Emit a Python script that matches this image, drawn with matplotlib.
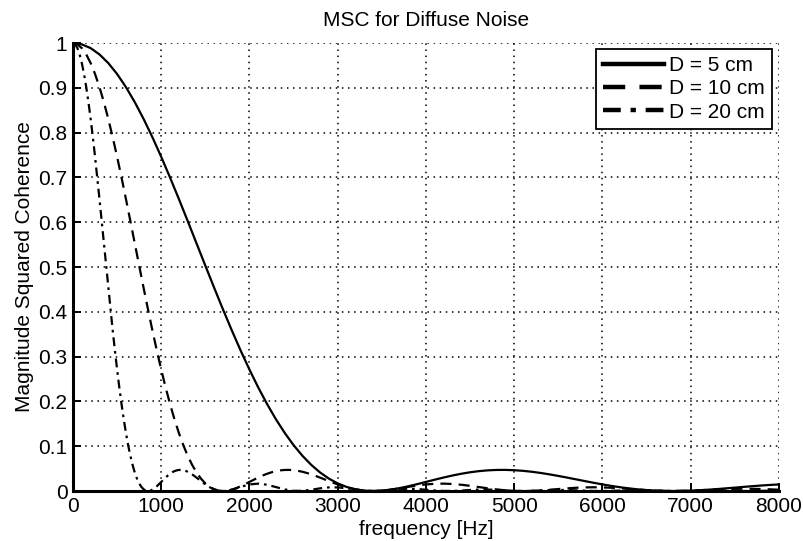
import numpy as np
import matplotlib
matplotlib.use('Agg')
import matplotlib.pyplot as plt

plt.rcParams['font.family'] = ['Liberation Sans', 'DejaVu Sans']

# magnitude squared coherence values
# D = 5 cm, f = 0..8000 Hz step 100
f_5cm = np.arange(0, 8001, 100)
msc_5cm = [1.0, 0.99716, 0.98867, 0.97464, 0.95529, 0.93085, 0.90166, 0.86810, 0.83063, 0.78972,
           0.74590, 0.69973, 0.65178, 0.60262, 0.55283, 0.50299, 0.45363, 0.40528, 0.35843, 0.31350,
           0.27089, 0.23094, 0.19392, 0.16005, 0.12950, 0.10235, 0.07864, 0.05835, 0.04140, 0.02767,
           0.01698, 0.00913, 0.00386, 0.00092, 0.0, 0.00081, 0.00305, 0.00641, 0.01059, 0.01530,
           0.02029, 0.02531, 0.03014, 0.03460, 0.03853, 0.04181, 0.04436, 0.04610, 0.04703, 0.04714,
           0.04645, 0.04503, 0.04295, 0.04029, 0.03716, 0.03367, 0.02993, 0.02606, 0.02217, 0.01838,
           0.01477, 0.01143, 0.00844, 0.00586, 0.00373, 0.00208, 0.00091, 0.00022, 0.0, 0.00021,
           0.00081, 0.00174, 0.00295, 0.00437, 0.00593, 0.00756, 0.00920, 0.01079, 0.01226, 0.01357,
           0.01467]

# D = 10 cm, f = 0..4000 step 50, then 4100..8000 step 100
f_10cm = np.concatenate([np.arange(0, 4001, 50), np.arange(4100, 8001, 100)])
msc_10cm = [1.0, 0.99716, 0.98867, 0.97464, 0.95529, 0.93085, 0.90166, 0.86810, 0.83063, 0.78972,
            0.74590, 0.69973, 0.65178, 0.60262, 0.55283, 0.50299, 0.45363, 0.40528, 0.35843, 0.31350,
            0.27089, 0.23094, 0.19392, 0.16005, 0.12950, 0.10235, 0.07864, 0.05835, 0.04140, 0.02767,
            0.01698, 0.00913, 0.00386, 0.00092, 0.0, 0.00081, 0.00305, 0.00641, 0.01059, 0.01530,
            0.02029, 0.02531, 0.03014, 0.03460, 0.03853, 0.04181, 0.04436, 0.04610, 0.04703, 0.04714,
            0.04645, 0.04503, 0.04295, 0.04029, 0.03716, 0.03367, 0.02993, 0.02606, 0.02217, 0.01838,
            0.01477, 0.01143, 0.00844, 0.00586, 0.00373, 0.00208, 0.00091, 0.00022, 0.0, 0.00021,
            0.00081, 0.00174, 0.00295, 0.00437, 0.00593, 0.00756, 0.00920, 0.01079, 0.01226, 0.01357,
            0.01467,
            0.01612, 0.01646, 0.01570, 0.01399, 0.01159, 0.00881, 0.00602, 0.00352, 0.00159, 0.00040,
            0.0, 0.00037, 0.00136, 0.00278, 0.00439, 0.00595, 0.00722, 0.00805, 0.00834, 0.00807,
            0.00728, 0.00610, 0.00470, 0.00325, 0.00192, 0.00088, 0.00022, 0.0, 0.00021, 0.00078,
            0.00161, 0.00256, 0.00350, 0.00429, 0.00482, 0.00503, 0.00490, 0.00445, 0.00376, 0.00291]

# D = 20 cm, f = 0..2000 step 25, then 2100..8000 step 100
f_20cm = np.concatenate([np.arange(0, 2001, 25), np.arange(2100, 8001, 100)])
msc_20cm = [1.0, 0.99716, 0.98867, 0.97464, 0.95529, 0.93085, 0.90166, 0.86810, 0.83063, 0.78972,
            0.74590, 0.69973, 0.65178, 0.60262, 0.55283, 0.50299, 0.45363, 0.40528, 0.35843, 0.31350,
            0.27089, 0.23094, 0.19392, 0.16005, 0.12950, 0.10235, 0.07864, 0.05835, 0.04140, 0.02767,
            0.01698, 0.00913, 0.00386, 0.00092, 0.0, 0.00081, 0.00305, 0.00641, 0.01059, 0.01530,
            0.02029, 0.02531, 0.03014, 0.03460, 0.03853, 0.04181, 0.04436, 0.04610, 0.04703, 0.04714,
            0.04645, 0.04503, 0.04295, 0.04029, 0.03716, 0.03367, 0.02993, 0.02606, 0.02217, 0.01838,
            0.01477, 0.01143, 0.00844, 0.00586, 0.00373, 0.00208, 0.00091, 0.00022, 0.0, 0.00021,
            0.00081, 0.00174, 0.00295, 0.00437, 0.00593, 0.00756, 0.00920, 0.01079, 0.01226, 0.01357,
            0.01467,
            0.01646, 0.01399, 0.00881, 0.00352, 0.00040, 0.00037, 0.00278, 0.00595, 0.00805, 0.00807,
            0.00610, 0.00325, 0.00088, 0.0, 0.00078, 0.00256, 0.00429, 0.00503, 0.00445, 0.00291,
            0.00121, 0.00014, 0.00013, 0.00105, 0.00230, 0.00320, 0.00329, 0.00255, 0.00138, 0.00038,
            0.0, 0.00035, 0.00118, 0.00201, 0.00240, 0.00216, 0.00144, 0.00060, 0.00007, 0.00007,
            0.00055, 0.00121, 0.00171, 0.00177, 0.00139, 0.00076, 0.00021, 0.0, 0.00020, 0.00068,
            0.00116, 0.00140, 0.00127, 0.00085, 0.00036, 0.00004, 0.00004, 0.00033, 0.00075, 0.00106]

labels = ['D = 5 cm', 'D = 10 cm', 'D = 20 cm']
xticks = np.arange(0, 8001, 1000)
yticks = np.arange(0, 1.01, 0.1)
yticklabels = ['0', '0.1', '0.2', '0.3', '0.4', '0.5', '0.6', '0.7', '0.8', '0.9', '1']

fs = 15

fig = plt.figure(figsize=(8.04, 5.41), dpi=100)
ax = fig.add_axes([0.0908, 0.0924, 0.878, 0.828])

ax.plot(f_5cm, msc_5cm, 'k-', lw=1.6, label=labels[0])
ax.plot(f_10cm, msc_10cm, 'k', lw=1.6, dashes=(5, 3.2), label=labels[1])
ax.plot(f_20cm, msc_20cm, 'k', lw=1.6, dashes=(4, 2.2, 1.2, 2.2), label=labels[2])

ax.set_xlim(0, 8000)
ax.set_ylim(0, 1)
ax.set_xticks(xticks)
ax.set_xticklabels(['%d' % t for t in xticks])
ax.set_yticks(yticks)
ax.set_yticklabels(yticklabels)
ax.grid(True, color='k', linestyle=(0, (1, 3)), linewidth=1.1)
ax.tick_params(direction='in', length=6, width=1.4, labelsize=fs, pad=4, colors='k')
for s in ['top', 'right']:
    ax.spines[s].set_visible(False)
for s in ['left', 'bottom']:
    ax.spines[s].set_linewidth(2.2)

ax.set_title('MSC for Diffuse Noise', fontsize=fs, pad=12)
ax.set_xlabel('frequency [Hz]', fontsize=fs, labelpad=3)
ax.set_ylabel('Magnitude Squared Coherence', fontsize=fs, labelpad=3)

leg = ax.legend(loc='upper right', fontsize=fs, frameon=True, fancybox=False,
                edgecolor='k', framealpha=1, handlelength=2.9, handletextpad=0.25,
                borderpad=0.35, labelspacing=0.2, borderaxespad=0,
                bbox_to_anchor=(0.990, 0.987))
leg.get_frame().set_linewidth(1.3)
for ln in leg.get_lines():
    ln.set_linewidth(3.2)

fig.savefig('out.png', dpi=100)
